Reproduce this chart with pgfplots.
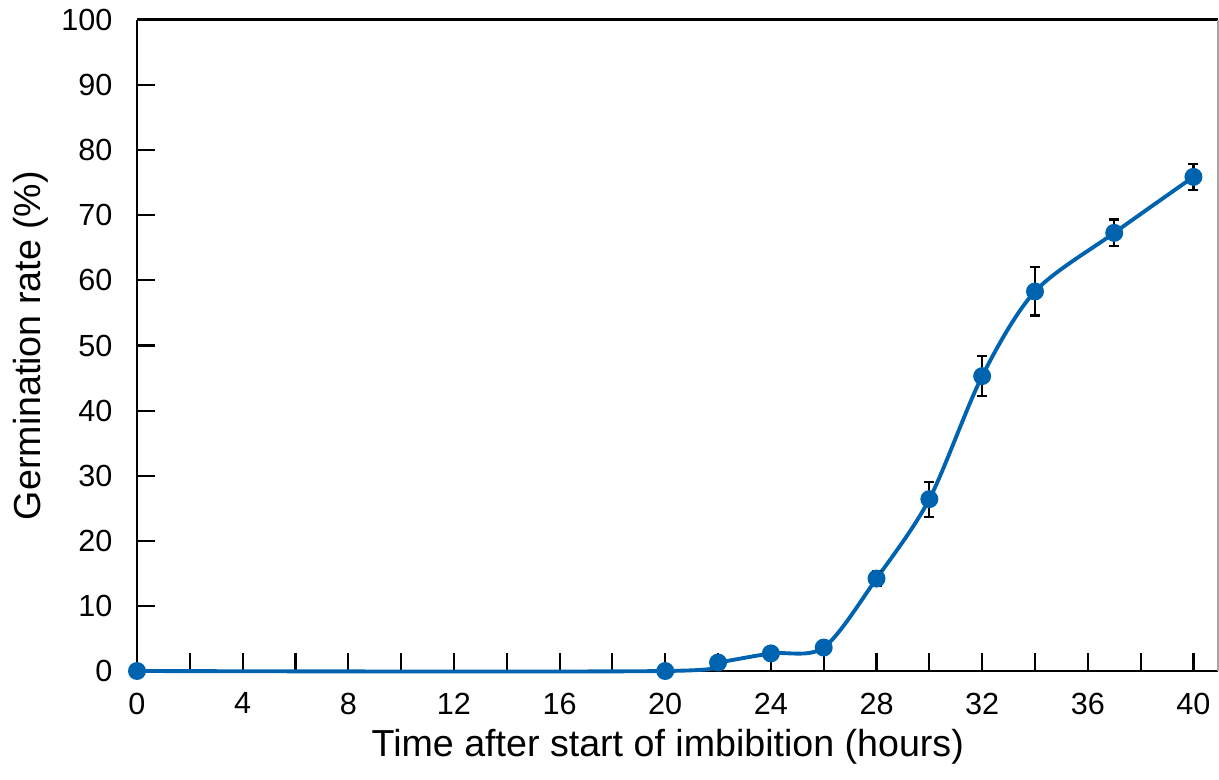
\documentclass[border=0pt]{standalone}
\usepackage{fontspec}
\setmainfont{Liberation Sans}
\usepackage{pgfplots}
\pgfplotsset{compat=1.18}
\usepackage{pgfplotstable}
\definecolor{seriesblue}{RGB}{0,99,176}

% germination rate (%) with standard error
\pgfplotstableread{
t rate err
0 0 0
20 0 0
22 1.3 0
24 2.7 0
26 3.6 0
28 14.2 1.2
30 26.4 2.7
32 45.3 3.1
34 58.3 3.7
37 67.3 2.05
40 75.9 2.0
}\germ

\begin{document}
\begin{tikzpicture}
\begin{axis}[
  scale only axis, width=108.1mm, height=65.1mm,
  xmin=0, xmax=40.93, ymin=0, ymax=100,
  clip=false,
  axis x line*=bottom, axis y line*=left,
  axis line style={-, line width=0.85pt, black},
  tick align=inside,
  xtick={0,4,...,40}, minor xtick={2,6,...,38},
  ytick={0,10,...,100},
  major tick length=1.8mm, minor tick length=1.8mm,
  every tick/.style={black, line width=0.6pt},
  /pgf/number format/assume math mode=true,
  ticklabel style={font=\fontsize{8.7}{10}\selectfont},
  xticklabel style={inner sep=0pt, yshift=-2.1mm},
  yticklabel style={inner sep=0pt, xshift=-2.4mm},
]
\addplot[seriesblue, line width=1.1pt, smooth,
  mark=*, mark size=2pt, mark options={solid, fill=seriesblue, draw=seriesblue},
  error bars/.cd, y dir=both, y explicit,
  error bar style={black, line width=0.6pt},
  error mark options={black, line width=0.6pt, rotate=90, mark size=0.5mm}]
  table[x=t, y=rate, y error=err] {\germ};
\draw[black, line width=0.85pt] (rel axis cs:0,1) -- (rel axis cs:1,1);
\draw[gray!70, line width=0.3pt] (rel axis cs:1,1) -- (rel axis cs:1,0);
\node[anchor=base, font=\fontsize{10.7}{12}\selectfont] at ([yshift=-8.5mm]rel axis cs:0.491,0) {Time after start of imbibition (hours)};
\node[anchor=base, rotate=90, font=\fontsize{10.7}{12}\selectfont] at ([xshift=-9.6mm]rel axis cs:0,0.5) {Germination rate (\%)};
\coordinate (sw) at (rel axis cs:0,0);
\coordinate (ne) at (rel axis cs:1,1);
\end{axis}
\pgfresetboundingbox
\path[use as bounding box] ([shift={(-13.7mm,-10.9mm)}]sw) rectangle ([shift={(0.1mm,2.0mm)}]ne);
\end{tikzpicture}
\end{document}
